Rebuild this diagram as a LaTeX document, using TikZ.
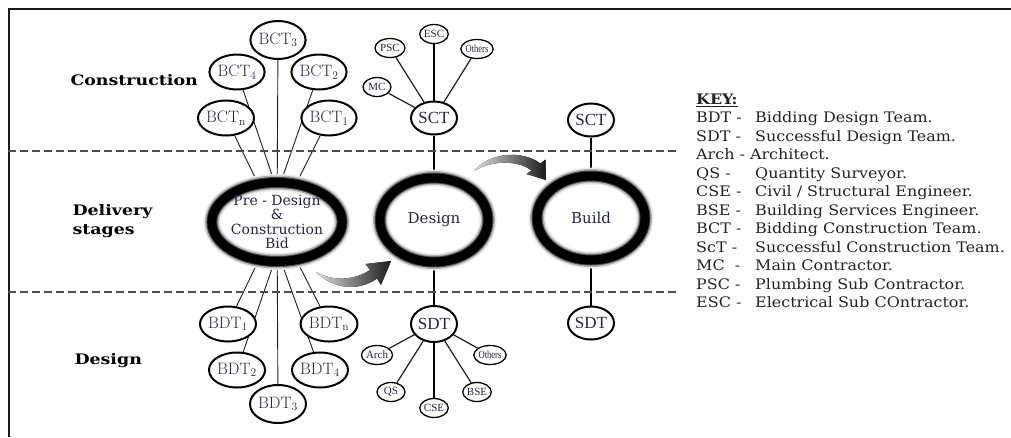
\documentclass[tikz,border=0pt]{standalone}
\usepackage{fontspec}
\newfontfamily\bookfont{DejaVu Serif}
\newfontfamily\keyfont[FakeStretch=1.1]{DejaVu Serif}
\newfontfamily\lanefont[FakeStretch=1.2]{DejaVu Serif}
\newfontfamily\timesfont{Liberation Serif}
\newfontfamily\narrowfont[FakeStretch=0.78]{Liberation Serif}
\usetikzlibrary{shapes.geometric,backgrounds}
\definecolor{txt}{RGB}{35,40,65}
\definecolor{keytxt}{RGB}{35,35,35}
\definecolor{edge}{RGB}{30,30,30}

\begin{document}
\begin{tikzpicture}[x=1pt,y=-1pt,
  team/.style={ellipse, draw=black, line width=2pt, fill=white, inner sep=0pt,
    minimum width=46pt, minimum height=35pt, text=txt, font=\fontsize{16.5}{18}\selectfont},
  hub/.style={team, line width=2pt, minimum width=46pt, minimum height=33pt,
    font=\timesfont\fontsize{17}{19}\selectfont},
  member/.style={ellipse, draw=black, line width=1.3pt, fill=white, inner sep=0pt,
    minimum width=28pt, minimum height=19pt, text=txt, font=\timesfont\fontsize{11}{12}\selectfont},
  narrowmember/.style={member, font=\narrowfont\fontsize{11}{12}\selectfont},
  stage/.style={ellipse, inner sep=0pt, align=center, text=txt,
    font=\bookfont\fontsize{14}{14.5}\selectfont,
    preaction={fill=white},
    preaction={draw=black!8, line width=17pt},
    preaction={draw=black!30, line width=14pt},
    preaction={draw=black!70, line width=11pt},
    draw=black, line width=9pt},
  link/.style={draw=edge, line width=0.9pt},
  spoke/.style={draw=edge, line width=1.2pt},
  stem/.style={draw=black, line width=1.5pt},
  divider/.style={draw=black!70, line width=1.3pt, dash pattern=on 8pt off 4pt},
  lane/.style={anchor=west, align=left, font=\lanefont\bfseries\fontsize{14.5}{19}\selectfont, text=black},
  swoosh/.style={left color=black!12, right color=black!90, draw=none}
]
\useasboundingbox (0,0) rectangle (1011,437);

% frame and lane dividers
\draw[line width=2pt, black!90] (8.5,437) -- (8.5,9) -- (1011,9);
\draw[divider] (8,151) -- (677,151);
\draw[divider] (8,292) -- (677,292);

% lane labels
\node[lane] (lblC) at (67,80) {Construction};
\node[lane] (lblD) at (69,221) {Delivery\\stages};
\node[lane] (lblS) at (71,361) {Design};

% delivery stages
\node[stage, minimum width=112pt, minimum height=79pt] (pre) at (277,222)
  {Pre - Design\\\&\\Construction\\Bid};
\node[stage, minimum width=108pt, minimum height=84pt, font=\bookfont\fontsize{15}{16}\selectfont] (design) at (434,220) {Design};
\node[stage, minimum width=108pt, minimum height=84pt, font=\bookfont\fontsize{15}{16}\selectfont] (build) at (591,218) {Build};

% bidding construction teams
\node[team, minimum width=48pt, minimum height=38pt] (bct3) at (278,40) {BCT\textsubscript{3}};
\node[team] (bct4) at (237,72) {BCT\textsubscript{4}};
\node[team] (bct2) at (319,72) {BCT\textsubscript{2}};
\node[team] (bctn) at (226,118) {BCT\textsubscript{n}};
\node[team] (bct1) at (329,118) {BCT\textsubscript{1}};

% bidding design teams
\node[team] (bdt1) at (228,324) {BDT\textsubscript{1}};
\node[team] (bdtn) at (329,324) {BDT\textsubscript{n}};
\node[team] (bdt2) at (237,370) {BDT\textsubscript{2}};
\node[team] (bdt4) at (320,370) {BDT\textsubscript{4}};
\node[team, minimum width=48pt, minimum height=38pt] (bdt3) at (278,404) {BDT\textsubscript{3}};

\coordinate (fanL) at (267,222);
\coordinate (fanR) at (288,222);

% successful construction team
\node[hub] (sct) at (434,118) {SCT};
\node[member] (mc) at (377,87) {MC};
\node[member, minimum width=30pt] (psc) at (390,48) {PSC};
\node[member] (esc) at (434,34) {ESC};
\node[narrowmember] (oth1) at (477,49) {Others};

% successful design team
\node[hub, minimum height=36pt] (sdt) at (434,324) {SDT};
\node[member] (arch) at (377,355) {Arch};
\node[member] (qs) at (391,392) {QS};
\node[member] (cse) at (434,408) {CSE};
\node[member] (bse) at (477,392) {BSE};
\node[narrowmember] (oth2) at (490,355) {Others};

% teams at build stage
\node[hub] (sct2) at (591,120) {SCT};
\node[hub] (sdt2) at (591,323) {SDT};

% key
\node[anchor=north west, inner sep=0pt, text=keytxt,
      font=\keyfont\fontsize{14.5}{18.5}\selectfont] (key) at (696,91)
{\begin{tabular}{@{}p{59pt}@{}l@{}}
\multicolumn{2}{@{}l}{\textbf{\underline{KEY:}}}\\
BDT - & Bidding Design Team.\\
SDT - & Successful Design Team.\\
\multicolumn{2}{@{}l}{Arch - Architect.}\\
QS - & Quantity Surveyor.\\
CSE - & Civil / Structural Engineer.\\
BSE - & Building Services Engineer.\\
BCT - & Bidding Construction Team.\\
ScT - & Successful Construction Team.\\
MC\ \ - & Main Contractor.\\
PSC - & Plumbing Sub Contractor.\\
ESC - & Electrical Sub COntractor.
\end{tabular}};

% progression arrows
\fill[swoosh] (316,272) .. controls (334,282) and (355,280) .. (370,270)
  -- (365.5,264) -- (391,261) -- (381,285) -- (377,278.5)
  .. controls (358,292) and (333,289) .. (316,272) -- cycle;
\fill[swoosh] (474,171) .. controls (490,152) and (522,150) .. (540.5,163.5)
  -- (545.5,159.5) -- (546,180) -- (526.5,174) -- (531.5,170.5)
  .. controls (518,160) and (492,160) .. (474,171) -- cycle;

% connectors behind the nodes
\begin{pgfonlayer}{background}
  \draw[link] (bct3) -- (pre.center);
  \draw[link] (bct4) -- (fanR);
  \draw[link] (bct2) -- (fanL);
  \draw[link] (bctn) -- (pre.center);
  \draw[link] (bct1) -- (pre.center);
  \draw[link] (bdt3) -- (pre.center);
  \draw[link] (bdt2) -- (fanR);
  \draw[link] (bdt4) -- (fanL);
  \draw[link] (bdt1) -- (pre.center);
  \draw[link] (bdtn) -- (pre.center);
  \draw[spoke] (mc) -- (sct);
  \draw[spoke] (psc) -- (sct);
  \draw[stem] (esc) -- (sct);
  \draw[spoke] (oth1) -- (sct);
  \draw[spoke] (arch) -- (sdt);
  \draw[spoke] (qs) -- (sdt);
  \draw[stem] (cse) -- (sdt);
  \draw[spoke] (bse) -- (sdt);
  \draw[spoke] (oth2) -- (sdt);
  \draw[stem] (sct) -- (design);
  \draw[stem] (design) -- (sdt);
  \draw[stem] (sct2) -- (build);
  \draw[stem] (build) -- (sdt2);
\end{pgfonlayer}
\end{tikzpicture}
\end{document}
